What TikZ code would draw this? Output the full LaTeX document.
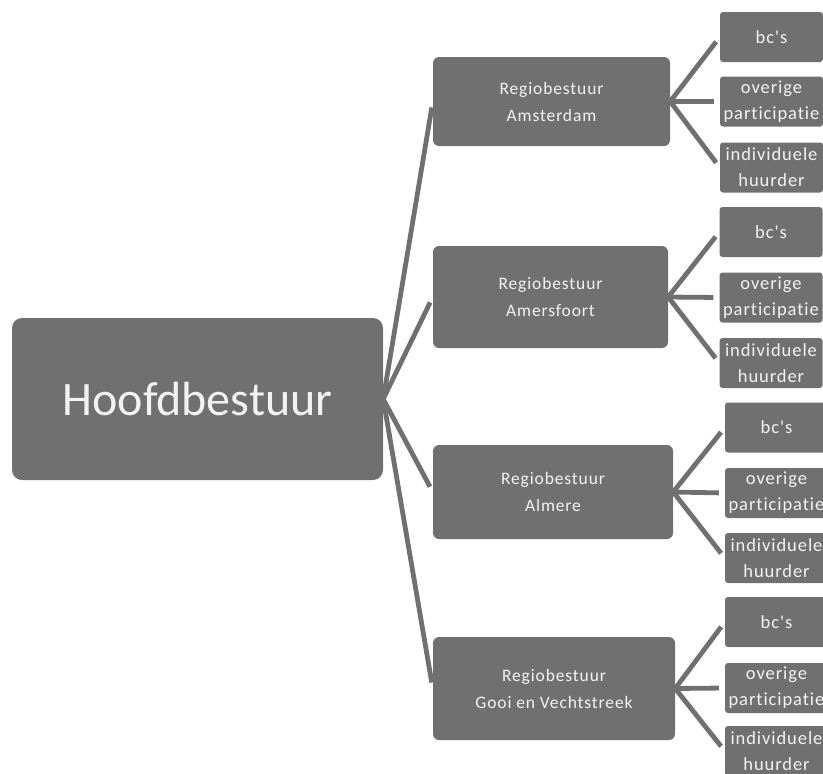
\documentclass[tikz,border=0pt]{standalone}
\usepackage{fontspec}
\setmainfont[Ligatures=NoCommon]{Carlito}
\newfontfamily\spacedfont[LetterSpace=5,Ligatures=NoCommon]{Carlito}
\definecolor{boxgray}{RGB}{112,112,112}
\definecolor{txtwhite}{RGB}{242,242,242}
\begin{document}
\begin{tikzpicture}[x=1pt,y=-1pt,
  box/.style={fill=boxgray, draw=none, text=txtwhite, align=center, inner sep=0pt},
  mainbox/.style={box, rounded corners=10pt, minimum width=371pt, minimum height=162pt,
    font=\fontsize{48}{56}\selectfont},
  regiobox/.style={box, rounded corners=6pt, minimum width=238pt,
    font=\spacedfont\fontsize{17.5}{27}\selectfont},
  leafbox/.style={box, rounded corners=3pt, minimum width=103pt, minimum height=50pt,
    font=\spacedfont\fontsize{18.5}{26}\selectfont},
  conn/.style={draw=boxgray, line width=4.8pt, shorten >=6pt}
]
\useasboundingbox (0,0) rectangle (823,774);

\node[mainbox] (H) at (197.5,399) {Hoofdbestuur};

\node[regiobox, minimum width=237pt, minimum height=89pt] (R1) at (551.5,101.5) {Regiobestuur\\Amsterdam};
\node[regiobox, minimum width=235pt, minimum height=102pt] (R2) at (550.5,297) {Regiobestuur\\Amersfoort};
\node[regiobox, minimum width=240pt, minimum height=94pt] (R3) at (553,492) {Regiobestuur\\Almere};
\node[regiobox, minimum width=242pt, minimum height=103pt] (R4) at (554,688.5) {Regiobestuur\\Gooi en Vechtstreek};

% leaves group 1
\node[leafbox] (A1) at (771.5,37) {bc's};
\node[leafbox] (A2) at (771.5,101.5) {overige\\participatie};
\node[leafbox] (A3) at (771.5,167.5) {individuele\\huurder};
% leaves group 2
\node[leafbox] (B1) at (771,232) {bc's};
\node[leafbox] (B2) at (771,297.5) {overige\\participatie};
\node[leafbox] (B3) at (771,363) {individuele\\huurder};
% leaves group 3
\node[leafbox] (C1) at (776.5,427.5) {bc's};
\node[leafbox] (C2) at (776.5,493) {overige\\participatie};
\node[leafbox] (C3) at (776.5,558) {individuele\\huurder};
% leaves group 4
\node[leafbox] (D1) at (776.5,622) {bc's};
\node[leafbox] (D2) at (776.5,688) {overige\\participatie};
\node[leafbox] (D3) at (776.5,751) {individuele\\huurder};

\foreach \r in {R1,R2,R3,R4} \draw[conn] (H.east) -- (\r.west);
\foreach \l in {A1,A2,A3} \draw[conn] (R1.east) -- (\l.west);
\foreach \l in {B1,B2,B3} \draw[conn] (R2.east) -- (\l.west);
\foreach \l in {C1,C2,C3} \draw[conn] (R3.east) -- (\l.west);
\foreach \l in {D1,D2,D3} \draw[conn] (R4.east) -- (\l.west);
\end{tikzpicture}
\end{document}
